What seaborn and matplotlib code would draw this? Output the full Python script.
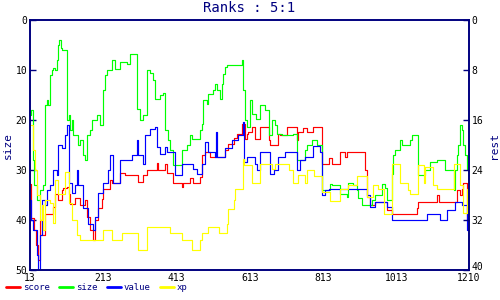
import numpy as np
import pandas as pd
import matplotlib
matplotlib.use("Agg")
import matplotlib.pyplot as plt
import seaborn as sns
from matplotlib.lines import Line2D

score_x = [13, 17, 24, 29, 36, 40, 45, 54, 72, 77, 81, 90, 99, 104, 113, 118, 122, 136, 149, 163, 168, 177, 186, 190, 199, 208, 213, 231, 236, 258, 272, 308, 322, 331, 358, 363, 381, 386,
           404, 427, 431, 449, 458, 477, 481, 490, 504, 545, 554, 568, 577, 590, 599, 604, 608, 618, 627, 640, 666, 667, 690, 695, 713, 740, 745, 758, 768,
           784, 808, 827, 836, 858, 872, 877, 927, 931, 940, 954, 986, 999, 1067, 1072, 1122, 1127, 1177, 1186, 1190, 1195, 1204, 1210]
score_y = [32.7, 39.5, 42, 45, 48, 40, 43, 38.7, 38.7, 37.3, 34.7, 36, 34, 33.5, 33.3, 34.7, 36.7, 35.5, 37, 36, 39.3, 42, 44, 40, 37.5, 35.7, 33.7, 32, 32.5, 30.5, 31, 32.3, 31, 30, 28.5, 30, 28.7, 30.5,
           32.5, 33.3, 32.5, 31.5, 32.5, 31.3, 27, 26.3, 27.3, 26, 24.7, 23.5, 22.7, 20.7, 23.7, 22.7, 22.3, 21.3, 23.7, 21.3, 24, 25, 22.7, 23, 21.3, 24, 22.3, 21.5, 22.3,
           21.3, 28.7, 27.5, 28.7, 26.3, 27.3, 26.3, 30, 35.3, 37, 36.3, 38, 38.8, 37.5, 36.3, 35, 36.3, 34, 35, 33.7, 32.5, 40, 40]

size_x = [13, 17, 20, 24, 31, 40, 48, 54, 58, 63, 68, 72, 77, 81, 86, 90, 93, 97, 101, 108, 113, 118, 122, 127, 131, 136, 145, 149, 158, 163, 168, 177, 181, 190, 195, 204, 208, 213, 218, 222, 231, 236, 245, 254, 258, 267, 277, 286, 299, 306, 313, 322, 331, 340, 349, 354, 368, 377, 381, 390,
          395, 404, 422, 427, 440, 449, 454, 472, 477, 481, 486, 495, 499, 513, 518, 522, 531, 536, 540, 545, 549, 590, 595, 599, 604, 613, 618, 629, 640, 654, 666, 672, 681, 686, 699, 722, 731, 740, 763, 768,
          783, 795, 808, 831, 836, 858, 877, 881, 895, 904, 908, 917, 945, 954, 972, 981, 986, 999, 1004, 1008, 1022, 1027, 1049, 1054, 1072, 1090, 1104, 1122, 1145, 1168, 1172, 1177, 1181, 1186, 1190, 1195, 1199, 1204, 1210]
size_y = [19, 18, 28, 33, 36, 34, 33, 17, 16, 17, 11, 10, 9.5, 10, 8, 5, 4, 5.5, 6, 6, 20, 19, 22, 20, 23, 23, 25, 24, 27, 28, 23, 22, 20, 20, 19, 21, 21, 14, 11, 10, 10, 8, 9.7, 9.7, 8.3, 8.3, 8.7, 6.8, 6.8, 17.7, 20, 19, 10, 10.5, 12, 15.7, 15, 14.5, 22, 24,
          26, 29, 29, 26, 25, 23, 23.7, 23.7, 22, 20.7, 16, 16.7, 14.7, 13.9, 12.7, 14, 15.7, 12.7, 10.7, 9.3, 8.9, 8, 14, 20, 21.3, 16, 18.7, 19.7, 17, 17.9, 23, 20, 21, 22.7, 23, 23, 22.7, 28, 26, 25,
          24, 25, 34, 32.7, 33, 34.7, 35.3, 32.5, 33, 34, 35.5, 37, 36, 35, 32.7, 33.5, 36, 30.7, 27, 26, 23.9, 25, 23.9, 22.9, 31, 30, 28.3, 28, 30, 34, 30, 27, 25, 21, 22, 25, 27, 29.7, 29.7]

value_x = [13, 17, 22, 31, 36, 40, 45, 54, 58, 68, 77, 86, 90, 99, 108, 113, 118, 127, 136, 140, 145, 158, 172, 186, 190, 199, 213, 227, 231, 240, 258, 272, 290, 304, 308, 322, 327, 340, 354, 358, 368, 381, 386,
           408, 427, 458, 467, 481, 490, 499, 518, 520, 522, 545, 563, 581, 593, 597, 604, 627, 631, 640, 667, 677, 690, 708, 740, 749, 763,
           786, 804, 808, 818, 827, 931, 940, 954, 986, 999, 1095, 1131, 1149, 1172, 1190, 1204, 1210]
value_y = [36, 40, 42, 47, 50, 43, 36, 37, 34, 33, 30, 31, 25, 25.5, 23, 21, 32.5, 34.5, 33, 30, 33, 37.5, 40.7, 42, 39.3, 34.5, 32.5, 30, 27, 32.5, 28, 28, 27, 24, 27, 28.7, 23, 21.7, 21.3, 25.3, 26.7, 25.3, 26.3,
           31, 28.7, 29.7, 30.7, 28.7, 24.3, 26.3, 27.3, 22.3, 27.3, 25.5, 24, 23, 20.3, 28.3, 27.3, 28.7, 30, 26.3, 30.7, 30, 27.3, 26.3, 30, 28, 27.3,
           25.1, 26.3, 35, 34, 33.7, 35, 37.3, 36.3, 37.3, 40, 38.8, 40, 38, 36.3, 37, 42, 42]

xp_x = [13, 22, 27, 31, 40, 45, 49, 54, 68, 77, 81, 90, 108, 118, 127, 140, 149, 213, 236, 263, 308, 333, 395,
        427, 454, 477, 481, 499, 527, 549, 554, 568, 572, 593, 597, 618, 640, 672, 681, 718, 731, 745, 763, 768,
        788, 808, 831, 858, 881, 904, 931, 949, 963, 977, 999, 1022, 1045, 1049, 1072, 1086, 1090, 1113, 1122, 1168, 1186, 1195, 1204, 1210]
xp_y = [21, 26, 30, 35, 40, 37, 42, 36, 36.5, 40.5, 32, 34.7, 30.3, 36.5, 40, 43, 43.9, 42, 43.9, 42.5, 46, 41.3, 42.5,
        43.9, 46, 44, 42.5, 41.3, 42.5, 40.7, 37.7, 36, 33.7, 27.7, 29, 32.5, 28.7, 29.7, 28.7, 30, 32.5, 31, 32.5, 30,
        31.1, 34.3, 36.2, 33.7, 33, 31.1, 35.3, 33, 33.7, 38.8, 28.7, 32.5, 34, 34.7, 29, 32.5, 29.3, 33, 33.7, 28.7, 33, 38.5, 33.7, 33.7]

series_names = ["score", "size", "value", "xp"]
series_colors = ["#ff0000", "#00ff00", "#0000ff", "#ffff00"]
x_ticks = [13, 213, 413, 613, 813, 1013, 1210]
left_ticks = [0, 10, 20, 30, 40, 50]
right_ticks = [0, 8, 16, 24, 32, 40]

frames = []
for name, xs, ys in [("score", score_x, score_y), ("size", size_x, size_y),
                     ("value", value_x, value_y), ("xp", xp_x, xp_y)]:
    frames.append(pd.DataFrame({"x": xs, "y": ys, "series": name}))
df = pd.concat(frames, ignore_index=True)

sns.set_style("white")
plt.rcParams["font.family"] = ["DejaVu Sans Mono", "DejaVu Sans"]
navy = "#000080"

fig = plt.figure(figsize=(5, 3), dpi=100)
ax = fig.add_axes([0.06, 0.1, 0.878, 0.833])
sns.lineplot(data=df, x="x", y="y", hue="series", hue_order=series_names,
             palette=dict(zip(series_names, series_colors)), estimator=None,
             sort=True, drawstyle="steps-post", linewidth=0.85, legend=False, ax=ax)

ax.set_xlim(13, 1210)
ax.set_ylim(50, 0)
ax.set_xticks(x_ticks)
ax.set_xticklabels([str(t) for t in x_ticks])
ax.set_yticks(left_ticks)
ax.set_xlabel("")
ax.set_ylabel("size", color=navy, fontsize=8, labelpad=2)
for s in ax.spines.values():
    s.set_color(navy)
    s.set_linewidth(1.2)
ax.tick_params(axis="both", direction="in", length=4, width=1, color=navy,
               labelsize=7, labelcolor="black", pad=2)

ax2 = ax.twinx()
ax2.set_ylim(40, 0)
ax2.set_yticks(right_ticks)
ax2.set_ylabel("rest", color=navy, fontsize=8, labelpad=4)
for s in ax2.spines.values():
    s.set_color(navy)
    s.set_linewidth(1.2)
ax2.tick_params(axis="y", direction="in", length=4, width=1, color=navy,
                labelsize=7, labelcolor="black", pad=2)
for lbl in ax2.get_yticklabels():
    if lbl.get_text() == "40":
        lbl.set_va("baseline")

ax.set_title("Ranks : 5:1", color=navy, fontsize=10, pad=6)

handles = [Line2D([0], [0], color=c, lw=2) for c in series_colors]
leg = fig.legend(handles, series_names, loc="lower left", bbox_to_anchor=(0.0, 0.005),
                 ncol=4, frameon=False, fontsize=6.5, handlelength=1.5,
                 handletextpad=0.3, columnspacing=1.1, borderaxespad=0.3)
for t in leg.get_texts():
    t.set_color(navy)

fig.savefig("out.png", dpi=100)
